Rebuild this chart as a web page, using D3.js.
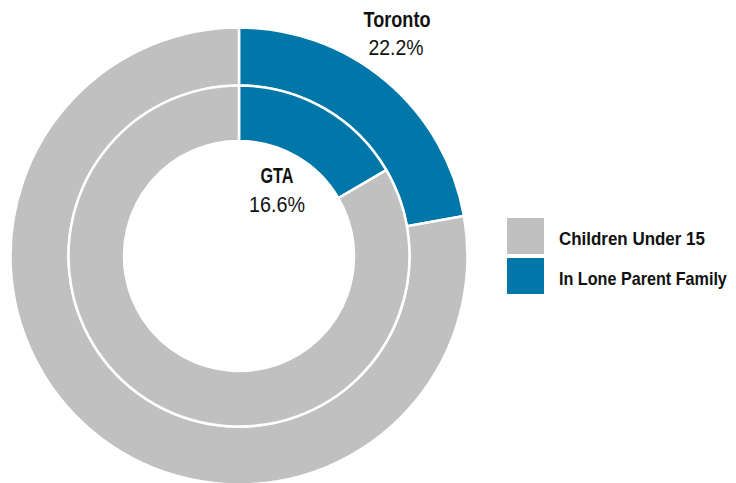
<!DOCTYPE html>
<html>
<head>
<meta charset="utf-8">
<script src="https://cdn.jsdelivr.net/npm/d3@7"></script>
<style>
  body { margin: 0; background: #fff; }
  text { font-family: "Liberation Sans", Arial, sans-serif; }
</style>
</head>
<body>
<svg id="canvas" width="736" height="483"></svg>
<script>
let categories = ["In Lone Parent Family", "Children Under 15"]
let torontoValues = [22.2, 77.8]
let gtaValues = [16.6, 83.4]
let ringNames = ["Toronto", "GTA"]
let legendLabels = ["Children Under 15", "In Lone Parent Family"]

let colors = d3.scaleOrdinal()
    .domain(categories)
    .range(["#0077a8", "#c0c0c0"])

let canvas = d3.select("#canvas")
let cx = 239, cy = 256

let pie = d3.pie().sort(null).value(d => d.value)

let drawRing = (values, inner, outer) => {
    let data = pie(values.map((v, i) => ({ cat: categories[i], value: v })))
    let arc = d3.arc().innerRadius(inner).outerRadius(outer)
    canvas.append("g")
        .attr("transform", `translate(${cx},${cy})`)
        .selectAll("path")
        .data(data)
        .enter()
        .append("path")
        .attr("d", arc)
        .attr("fill", d => colors(d.data.cat))
        .attr("stroke", "#fff")
        .attr("stroke-width", 2.5)
}

drawRing(torontoValues, 170.5, 228.5)
drawRing(gtaValues, 115, 170.5)

// the original uses a condensed face, so squeeze each text horizontally
// to the width it has there
let label = (txt, x, y, size, weight, width, anchor) => {
    let t = canvas.append("text")
        .attr("text-anchor", anchor)
        .attr("font-size", size)
        .attr("font-weight", weight)
        .attr("fill", "#111")
        .text(txt)
    let k = width / t.node().getComputedTextLength()
    t.attr("transform", `translate(${x},${y}) scale(${k},1)`)
}

label(ringNames[0], cx + 158, 27, 21.5, "bold", 67, "middle")
label(torontoValues[0].toFixed(1) + "%", cx + 157, 55, 21.5, "normal", 55, "middle")
label(ringNames[1], cx + 38, 183, 21.5, "bold", 33, "middle")
label(gtaValues[0].toFixed(1) + "%", cx + 38, 212, 21.5, "normal", 56, "middle")

// legend
let legendWidths = [146, 168]
legendLabels.forEach((lab, i) => {
    let y = 218 + i * 40
    canvas.append("rect")
        .attr("x", 507)
        .attr("y", y)
        .attr("width", 37)
        .attr("height", 36)
        .attr("fill", colors(lab))
    label(lab, 559, y + 27, 18, "bold", legendWidths[i], "start")
})
</script>
</body>
</html>
